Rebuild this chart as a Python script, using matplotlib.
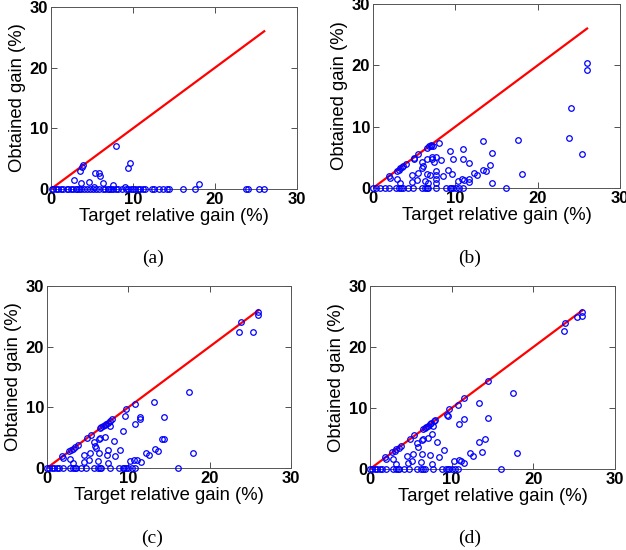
import matplotlib
matplotlib.use("Agg")
import matplotlib.pyplot as plt

# ---------------- data ----------------
line_x = [0, 26]
line_y = [0, 26]

# panel (a)
a_zero_x = [0.1, 0.3, 0.6, 0.9, 1.2, 1.5, 1.9, 2.1, 2.4, 2.7, 3.0, 3.2, 3.4, 3.6, 4.0, 4.4,
            4.8, 5.1, 5.5, 5.9, 6.3, 6.6, 6.9, 7.1, 7.3, 7.6, 7.9, 8.2, 8.6, 9.1, 9.4, 9.7,
            10.0, 10.3, 10.6, 10.9, 11.2, 11.5, 12.3, 12.6, 13.2, 13.6, 14.1, 14.4, 16.1,
            17.5, 23.8, 24.0, 25.4, 26.0]
a_x = [7.9, 9.65, 9.4, 3.9, 3.8, 3.5, 5.4, 5.8, 6.0, 2.8, 3.6, 4.6, 6.4, 7.6, 5.3, 9.0, 18.0]
a_y = [7.1, 4.3, 3.5, 3.9, 3.7, 3.0, 2.7, 2.6, 2.2, 1.5, 0.95, 1.1, 1.0, 0.65, 0.3, 0.35, 0.8]

# panel (b)
b_zero_x = [0.0, 0.4, 0.8, 1.4, 2.0, 2.8, 3.2, 3.45, 3.7, 4.3, 4.9, 5.9, 6.3, 6.5, 6.7, 7.7,
            8.9, 9.3, 9.5, 9.7, 10.1, 10.5, 10.9, 16.2]
b_x = [2.0, 2.1, 2.9, 3.1, 3.3, 3.5, 3.7, 4.0, 5.0, 5.5, 6.6, 6.8, 7.0, 7.1, 7.3, 8.0,
       2.9, 3.3, 4.7, 4.7, 5.5, 5.4, 6.0, 6.1, 6.5, 6.6, 6.7, 6.3, 6.9, 7.2, 7.2, 7.4,
       7.7, 7.6, 7.7, 7.6, 7.7, 8.3, 8.5, 9.1, 9.4, 9.6, 9.7, 10.3, 10.8, 10.9, 10.9,
       11.1, 11.6, 11.6, 11.6, 12.3, 12.6, 13.3, 13.4, 13.7, 14.2, 14.5, 14.5, 17.6,
       18.1, 23.8, 24.0, 25.4, 26.0, 26.0, 5.0, 5.9]
b_y = [2.0, 1.7, 2.8, 3.0, 3.2, 3.4, 3.6, 3.9, 4.9, 5.5, 6.6, 6.8, 7.0, 6.8, 6.9, 7.3,
       1.4, 0.8, 2.1, 0.9, 2.4, 1.25, 4.3, 3.6, 4.8, 2.3, 0.8, 1.1, 2.1, 4.7, 5.1, 4.3,
       5.1, 2.8, 2.1, 0.8, 1.5, 4.5, 2.0, 3.0, 6.1, 2.3, 4.7, 1.2, 1.4, 6.4, 4.8,
       1.25, 4.0, 1.4, 1.0, 2.4, 2.1, 7.6, 3.0, 2.7, 3.8, 5.7, 0.8, 7.9,
       2.3, 8.2, 13.1, 5.5, 20.4, 19.2, 4.8, 3.2]

# panel (c)
c_zero_x = [0.0, 0.3, 0.6, 0.9, 1.2, 1.5, 2.0, 2.8, 3.2, 3.4, 3.6, 4.2, 4.8, 5.8, 6.3, 6.5,
            6.7, 7.7, 8.8, 9.3, 9.5, 9.7, 10.0, 10.4, 10.8, 16.1]
c_x = [1.8, 2.0, 2.7, 3.0, 3.2, 3.5, 3.8, 4.9, 5.4, 6.5, 6.7, 6.9, 7.1, 7.3, 7.5, 7.8,
       8.0, 9.7, 10.8, 23.9, 26.0, 26.0,
       2.8, 3.2, 4.5, 4.6, 5.3, 5.2, 5.8, 5.9, 6.0, 6.4, 6.5, 6.4, 6.3, 7.1, 7.4, 7.5,
       7.5, 7.7, 8.2, 8.4, 9.0, 9.4, 9.6, 10.2, 10.7, 10.8, 11.1, 11.4, 11.4, 11.5,
       12.2, 12.5, 13.2, 13.3, 13.7, 14.1, 14.35, 14.35, 17.5, 18.0, 23.6, 25.3]
c_y = [1.9, 1.6, 2.8, 3.0, 3.2, 3.5, 3.8, 4.9, 5.5, 6.6, 6.8, 6.9, 7.1, 7.3, 7.5, 7.8,
       8.0, 9.8, 10.5, 24.0, 25.7, 25.3,
       1.5, 0.8, 2.2, 1.0, 2.4, 1.3, 4.3, 3.6, 3.3, 4.8, 4.9, 2.4, 1.2, 5.1, 2.2, 3.0,
       0.8, 7.0, 4.5, 2.0, 3.0, 6.1, 8.6, 1.2, 1.4, 7.3, 1.3, 8.4, 8.1, 1.0,
       2.5, 2.2, 10.8, 3.1, 2.8, 4.8, 4.8, 8.4, 12.5, 2.4, 22.5, 22.5]

# panel (d)
d_zero_x = [0.0, 0.3, 0.6, 0.9, 1.2, 1.5, 2.0, 2.8, 3.2, 3.4, 3.6, 4.2, 4.8, 5.8, 6.3, 6.5,
            6.7, 7.7, 8.8, 9.3, 9.5, 9.7, 10.0, 10.4, 10.8, 16.1]
d_x = [1.8, 2.0, 2.7, 3.0, 3.2, 3.5, 3.8, 4.9, 5.4, 6.5, 6.7, 6.9, 7.1, 7.3, 7.5, 7.8,
       8.0, 9.7, 10.8, 11.5, 14.4, 23.9, 25.3, 25.9, 25.9,
       2.8, 3.2, 4.5, 4.6, 5.3, 5.2, 5.8, 5.9, 6.4, 6.5, 6.4, 6.3, 7.1, 7.35, 7.6, 7.6,
       7.7, 8.2, 8.4, 9.1, 9.4, 9.6, 10.3, 10.9, 10.9, 11.2, 11.5, 11.55, 12.3, 12.6,
       13.3, 13.3, 13.7, 14.1, 14.45, 17.55, 18.0, 23.7]
d_y = [1.9, 1.6, 2.8, 3.0, 3.2, 3.5, 3.8, 4.9, 5.5, 6.6, 6.8, 6.9, 7.1, 7.3, 7.5, 7.8,
       8.0, 9.8, 10.5, 11.6, 14.5, 23.9, 24.9, 25.7, 25.1,
       1.6, 0.8, 2.2, 1.0, 2.4, 1.3, 4.3, 3.6, 4.8, 4.9, 2.4, 1.2, 5.1, 2.3, 5.8, 0.8,
       7.1, 4.5, 2.0, 3.1, 8.8, 8.7, 1.3, 1.5, 7.4, 1.3, 8.2, 1.0, 2.6, 2.2,
       10.9, 4.4, 2.8, 4.9, 8.4, 12.5, 2.6, 22.6]

ticks = [0, 10, 20, 30]
xlabel = "Target relative gain (%)"
ylabel = "Obtained gain (%)"
captions = ["(a)", "(b)", "(c)", "(d)"]

panels = [
    (a_x, a_y, a_zero_x),
    (b_x, b_y, b_zero_x),
    (c_x, c_y, c_zero_x),
    (d_x, d_y, d_zero_x),
]

# ---------------- layout ----------------
W, H = 626, 550
fig = plt.figure(figsize=(W / 100, H / 100), dpi=100)

# pixel boxes (x0, x30, y30, y0)
boxes = [
    (51, 297, 7, 189),
    (373, 620, 4, 188),
    (47, 291, 286, 468),
    (370, 615, 286, 469),
]
cap_pos = [(153, 258), (470, 258), (152, 538), (470, 538)]

for (xs, ys, zx), (x0, x1, yt, yb), cap, (cx, cy) in zip(panels, boxes, captions, cap_pos):
    ax = fig.add_axes([x0 / W, 1 - yb / H, (x1 - x0) / W, (yb - yt) / H])
    ax.plot(line_x, line_y, color=(1, 0, 0), lw=1.6, zorder=3)
    allx = list(zx) + list(xs)
    ally = [0.0] * len(zx) + list(ys)
    ax.plot(allx, ally, linestyle="none", marker="o", markersize=4.0,
            markerfacecolor="none", markeredgecolor=(0, 0, 1), markeredgewidth=0.9,
            zorder=4, clip_on=False)
    ax.set_xlim(0, 30)
    ax.set_ylim(0, 30)
    ax.set_xticks(ticks)
    ax.set_yticks(ticks)
    ax.tick_params(direction="in", length=4, width=0.6, top=True, right=True,
                   pad=2, colors="#333333", labelcolor="black")
    for lab in ax.get_xticklabels() + ax.get_yticklabels():
        lab.set_fontweight("bold")
        lab.set_fontsize(12)
        lab.set_fontfamily("Liberation Sans")
    for s in ax.spines.values():
        s.set_linewidth(0.7)
        s.set_color("#555555")
    ax.set_xlabel(xlabel, fontsize=13.3, family="Liberation Sans", labelpad=1)
    ax.set_ylabel(ylabel, fontsize=13.3, family="Liberation Sans", labelpad=3)
    fig.text(cx / W, 1 - cy / H, cap, ha="center", va="center", fontsize=14,
             family="Liberation Serif")

fig.savefig("out.png", dpi=100)
